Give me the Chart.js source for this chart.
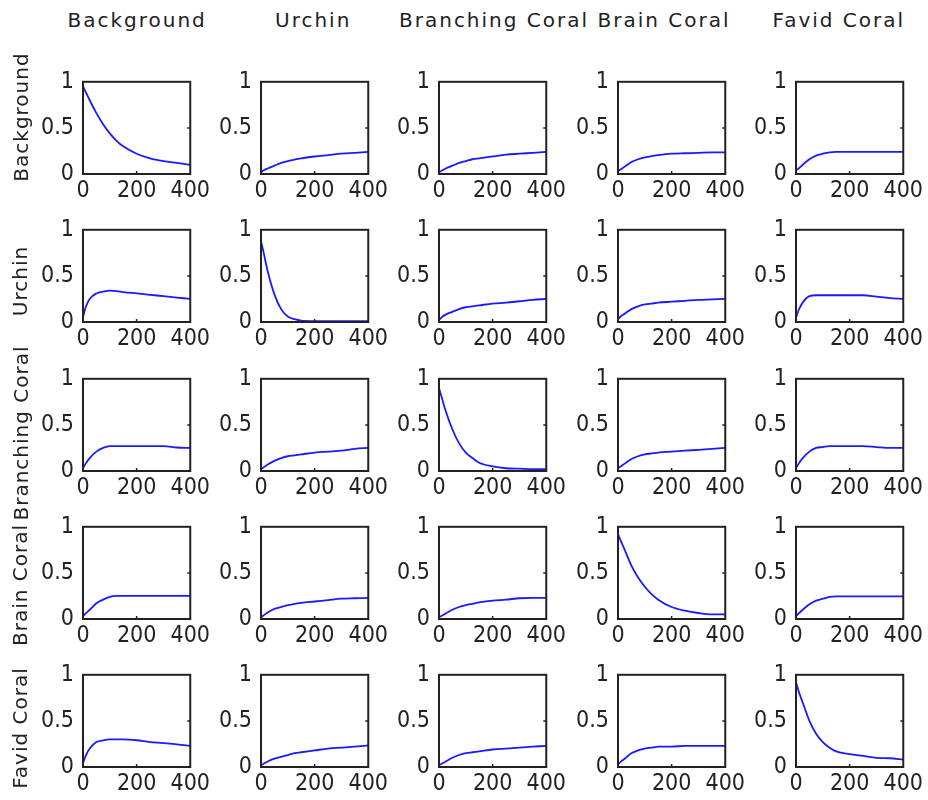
<!DOCTYPE html>
<html>
<head>
<meta charset="utf-8">
<script src="https://cdn.jsdelivr.net/npm/chart.js@4"></script>
<style>
    body { margin: 0; background: #fff; }
    #page { position: relative; width: 928px; height: 800px; overflow: hidden; }
    canvas { position: absolute; }
    .title, .rowLabel {
        position: absolute;
        font-family: "DejaVu Sans", sans-serif;
        font-size: 20px;
        letter-spacing: 2px;
        color: #222;
        white-space: nowrap;
    }
    .rowLabel { letter-spacing: 1px; }
</style>
</head>
<body>
<div id="page"></div>
<script>
// -----------------------------
// DATA
// -----------------------------
const NAMES = ["Background", "Urchin", "Branching Coral", "Brain Coral", "Favid Coral"];
const X_VALUES = [0, 10, 25, 50, 75, 100, 125, 150, 200, 250, 300, 350, 400];
const X_TICKS = [0, 200, 400];
const Y_TICKS = [0, 0.5, 1];

// one row per "from" state, one series per column
const rowBackground = [
    [0.95, 0.89, 0.8, 0.66, 0.54, 0.44, 0.36, 0.3, 0.22, 0.17, 0.14, 0.12, 0.1],
    [0.02, 0.04, 0.06, 0.09, 0.12, 0.14, 0.155, 0.17, 0.19, 0.205, 0.22, 0.23, 0.24],
    [0.02, 0.035, 0.06, 0.09, 0.12, 0.14, 0.16, 0.17, 0.19, 0.21, 0.22, 0.23, 0.24],
    [0.03, 0.05, 0.08, 0.13, 0.16, 0.18, 0.195, 0.205, 0.22, 0.225, 0.23, 0.235, 0.235],
    [0.04, 0.06, 0.1, 0.16, 0.2, 0.22, 0.235, 0.24, 0.24, 0.24, 0.24, 0.24, 0.24]
];
const rowUrchin = [
    [0.05, 0.16, 0.25, 0.31, 0.33, 0.34, 0.335, 0.325, 0.31, 0.295, 0.28, 0.265, 0.25],
    [0.88, 0.75, 0.55, 0.3, 0.14, 0.06, 0.03, 0.015, 0.01, 0.01, 0.01, 0.01, 0.01],
    [0.02, 0.05, 0.08, 0.11, 0.14, 0.16, 0.17, 0.18, 0.2, 0.21, 0.225, 0.24, 0.25],
    [0.03, 0.06, 0.09, 0.14, 0.17, 0.19, 0.2, 0.21, 0.22, 0.23, 0.24, 0.245, 0.25],
    [0.05, 0.13, 0.21, 0.28, 0.29, 0.29, 0.29, 0.29, 0.29, 0.29, 0.275, 0.26, 0.25]
];
const rowBranching = [
    [0.03, 0.08, 0.14, 0.21, 0.25, 0.27, 0.27, 0.27, 0.27, 0.27, 0.27, 0.255, 0.25],
    [0.02, 0.04, 0.07, 0.11, 0.14, 0.16, 0.17, 0.18, 0.2, 0.21, 0.22, 0.24, 0.25],
    [0.9, 0.8, 0.65, 0.45, 0.3, 0.2, 0.14, 0.09, 0.05, 0.03, 0.025, 0.02, 0.02],
    [0.03, 0.05, 0.08, 0.13, 0.16, 0.18, 0.19, 0.2, 0.21, 0.22, 0.23, 0.24, 0.25],
    [0.03, 0.08, 0.14, 0.21, 0.25, 0.26, 0.27, 0.27, 0.27, 0.27, 0.26, 0.25, 0.25]
];
const rowBrain = [
    [0.03, 0.06, 0.1, 0.17, 0.21, 0.24, 0.25, 0.25, 0.25, 0.25, 0.25, 0.25, 0.25],
    [0.02, 0.04, 0.07, 0.11, 0.13, 0.15, 0.165, 0.175, 0.19, 0.205, 0.22, 0.225, 0.23],
    [0.02, 0.035, 0.06, 0.1, 0.13, 0.15, 0.165, 0.18, 0.2, 0.21, 0.225, 0.23, 0.23],
    [0.92, 0.85, 0.75, 0.58, 0.45, 0.35, 0.27, 0.21, 0.13, 0.09, 0.065, 0.05, 0.05],
    [0.03, 0.06, 0.1, 0.16, 0.2, 0.22, 0.24, 0.245, 0.245, 0.245, 0.245, 0.245, 0.245]
];
const rowFavid = [
    [0.04, 0.12, 0.2, 0.27, 0.29, 0.3, 0.3, 0.3, 0.29, 0.27, 0.26, 0.245, 0.23],
    [0.02, 0.035, 0.06, 0.09, 0.11, 0.13, 0.15, 0.16, 0.18, 0.2, 0.21, 0.22, 0.235],
    [0.02, 0.035, 0.06, 0.1, 0.13, 0.15, 0.16, 0.17, 0.19, 0.2, 0.21, 0.22, 0.23],
    [0.03, 0.055, 0.09, 0.15, 0.18, 0.2, 0.21, 0.22, 0.22, 0.23, 0.23, 0.23, 0.23],
    [0.92, 0.82, 0.7, 0.5, 0.36, 0.27, 0.21, 0.17, 0.14, 0.12, 0.1, 0.095, 0.08]
];
const ROWS = [rowBackground, rowUrchin, rowBranching, rowBrain, rowFavid];

// -----------------------------
// LAYOUT
// -----------------------------
const BOX_LEFT = [83, 261, 439, 618, 796];
const BOX_TOP = [71, 219, 368, 516, 664];
const BOX_W = 116, BOX_H = 103;
const PAD_LEFT = 60, PAD_TOP = 12, PAD_RIGHT = 14, PAD_BOTTOM = 34;
const TITLE_X = [137, 313, 494, 664, 839];
const ROW_LABEL_Y = [117, 281, 433, 585, 728];

const page = document.getElementById("page");

// box + inside ticks, like the original axes
const boxPlugin = {
    id: "box",
    afterDraw(chart) {
        const { ctx, chartArea: a, scales } = chart;
        ctx.save();
        ctx.strokeStyle = "#222";
        ctx.lineWidth = 2;
        ctx.strokeRect(a.left, a.top, a.right - a.left, a.bottom - a.top);
        ctx.lineWidth = 1.5;
        ctx.beginPath();
        X_TICKS.slice(1, -1).forEach(v => {
            const px = scales.x.getPixelForValue(v);
            ctx.moveTo(px, a.bottom);
            ctx.lineTo(px, a.bottom - 3);
        });
        Y_TICKS.slice(1, -1).forEach(v => {
            const py = scales.y.getPixelForValue(v);
            ctx.moveTo(a.right, py);
            ctx.lineTo(a.right - 3, py);
        });
        ctx.stroke();
        ctx.restore();
    }
};

const tickFont = { family: "'Liberation Sans Narrow', 'DejaVu Sans Condensed', sans-serif", size: 23 };

function makeChart(r, c, values) {
    const canvas = document.createElement("canvas");
    const w = PAD_LEFT + BOX_W + PAD_RIGHT;
    const h = PAD_TOP + BOX_H + PAD_BOTTOM;
    canvas.width = w;
    canvas.height = h;
    canvas.style.left = (BOX_LEFT[c] - PAD_LEFT) + "px";
    canvas.style.top = (BOX_TOP[r] - PAD_TOP) + "px";
    page.appendChild(canvas);

    new Chart(canvas.getContext("2d"), {
        type: "line",
        data: {
            datasets: [{
                data: X_VALUES.map((x, i) => ({ x: x, y: values[i] })),
                borderColor: "#1a1aff",
                borderWidth: 1.8,
                pointRadius: 0,
                fill: false,
                cubicInterpolationMode: "monotone"
            }]
        },
        options: {
            responsive: false,
            animation: false,
            layout: { padding: { left: 0, top: PAD_TOP, right: PAD_RIGHT, bottom: 0 } },
            plugins: { legend: { display: false }, tooltip: { enabled: false } },
            scales: {
                x: {
                    type: "linear",
                    min: 0,
                    max: 400,
                    afterBuildTicks: s => { s.ticks = X_TICKS.map(v => ({ value: v })); },
                    afterFit: s => { s.height = PAD_BOTTOM; },
                    grid: { display: false, drawTicks: false },
                    border: { display: false },
                    ticks: { color: "#222", font: tickFont, padding: 3, maxRotation: 0, autoSkip: false }
                },
                y: {
                    min: 0,
                    max: 1,
                    afterBuildTicks: s => { s.ticks = Y_TICKS.map(v => ({ value: v })); },
                    afterFit: s => { s.width = PAD_LEFT; },
                    grid: { display: false, drawTicks: false },
                    border: { display: false },
                    ticks: { color: "#222", font: tickFont, padding: 9, callback: v => String(v) }
                }
            }
        },
        plugins: [boxPlugin]
    });
}

ROWS.forEach((row, r) => row.forEach((values, c) => makeChart(r, c, values)));

// column titles
NAMES.forEach((name, c) => {
    const el = document.createElement("div");
    el.className = "title";
    el.textContent = name;
    page.appendChild(el);
    el.style.left = (TITLE_X[c] - el.offsetWidth / 2) + "px";
    el.style.top = "8px";
});

// row labels, rotated
NAMES.forEach((name, r) => {
    const el = document.createElement("div");
    el.className = "rowLabel";
    el.textContent = name;
    page.appendChild(el);
    const w = el.offsetWidth, h = el.offsetHeight;
    el.style.left = (20 - w / 2) + "px";
    el.style.top = (ROW_LABEL_Y[r] - h / 2) + "px";
    el.style.transform = "rotate(-90deg)";
});
</script>
</body>
</html>
